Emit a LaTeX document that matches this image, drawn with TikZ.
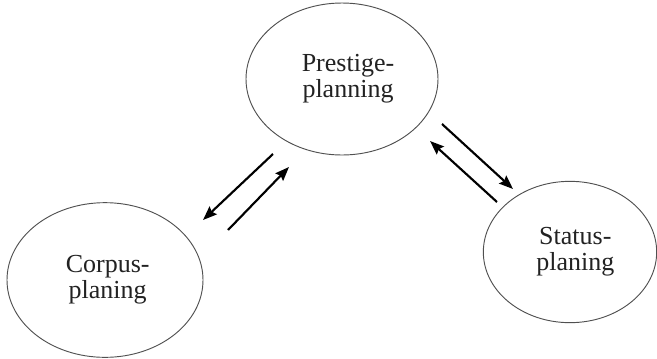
\documentclass[tikz,border=0pt]{standalone}
\usepackage{fontspec}
\setmainfont{Liberation Serif}
\usetikzlibrary{arrows.meta,shapes.geometric}
\definecolor{txt}{HTML}{222222}
\definecolor{edge}{HTML}{505050}
\begin{document}
\begin{tikzpicture}[x=0.75pt,y=-0.75pt,
  bubble/.style={draw=edge,line width=0.7pt,ellipse,inner sep=0pt,align=center,
    text=txt,font=\fontsize{19.5}{19.5}\selectfont},
  arr/.style={line width=1.6pt,-{Stealth[length=10.5pt,width=8pt,inset=1.5pt]}}]
\useasboundingbox (0,0) rectangle (657,358);
\node[bubble,minimum width=144pt,minimum height=114pt] (prest) at (342,79) {\hspace*{9pt}Prestige-\\\hspace*{9pt}planning};
\node[bubble,minimum width=147pt,minimum height=116pt] (corp) at (105,280) {\hspace*{4pt}Corpus-\\\hspace*{4pt}planing};
\node[bubble,minimum width=130pt,minimum height=106pt] (stat) at (570,252) {\hspace*{8pt}Status-\\\hspace*{8pt}planing};
\coordinate (a1s) at (273,154);
\coordinate (a1e) at (203,220);
\coordinate (a2s) at (228,230);
\coordinate (a2e) at (289,167);
\coordinate (b1s) at (442,124);
\coordinate (b1e) at (513,189);
\coordinate (b2s) at (497,202);
\coordinate (b2e) at (430,141);
\draw[arr] (a1s) -- (a1e);
\draw[arr] (a2s) -- (a2e);
\draw[arr] (b1s) -- (b1e);
\draw[arr] (b2s) -- (b2e);
\end{tikzpicture}
\end{document}
